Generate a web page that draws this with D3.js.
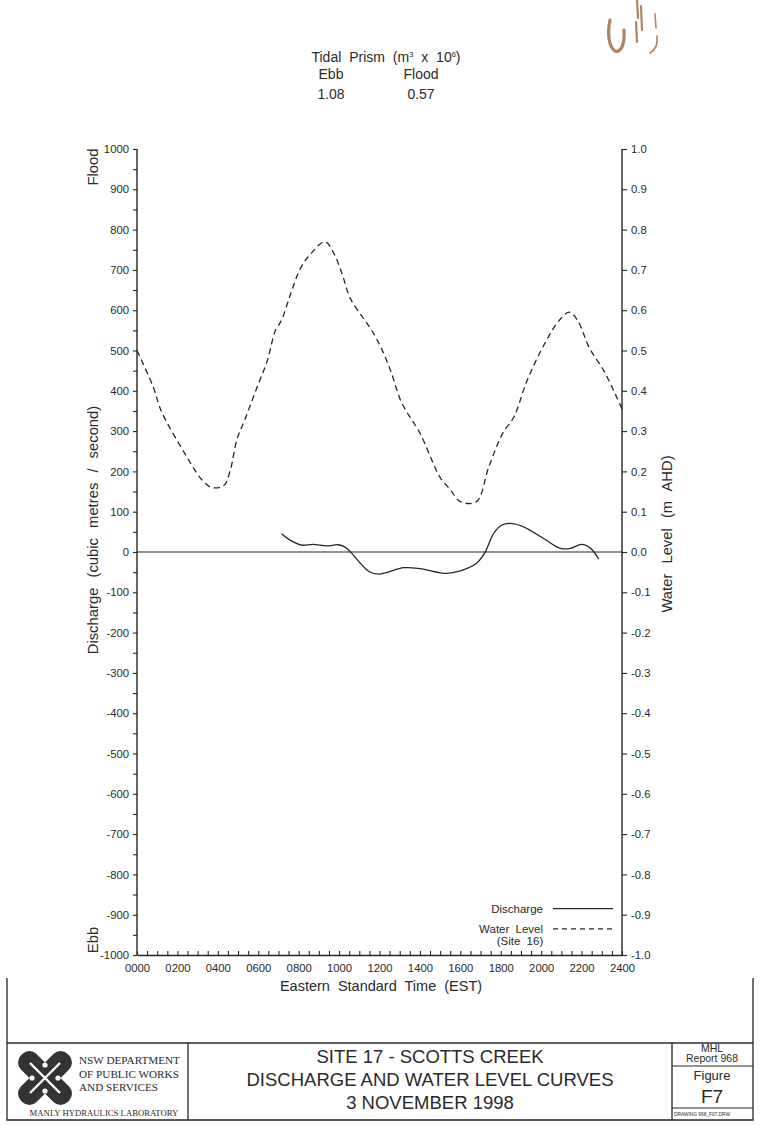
<!DOCTYPE html>
<html>
<head>
<meta charset="utf-8">
<script src="https://cdn.jsdelivr.net/npm/d3@7"></script>
<style>
  html, body { margin: 0; padding: 0; background: #fff; }
  svg { display: block; }
  text { font-family: "Liberation Sans", Arial, sans-serif; fill: #2a2a2a; }
  text.serif { font-family: "Liberation Serif", "Times New Roman", serif; }
</style>
</head>
<body>
<svg id="chart" width="762" height="1128"></svg>
<script>
// ---------------- DATA ----------------
// Water level (Site 16), m AHD, time in hours EST
const wlTime  = [0, 0.8, 1.2, 2.3, 3.2, 3.7, 4.3, 4.6, 4.95, 5.35, 5.95, 6.45, 6.85, 7.15, 7.6, 8.1, 8.6, 9.3, 9.75, 10.15, 10.55, 11.2, 11.55, 12.05, 12.55, 13.1, 14.0, 15.0, 15.5, 16.0, 16.8, 17.4, 18.1, 18.65, 19.3, 20.15, 20.9, 21.4, 21.8, 22.4, 23.1, 24];
const wlLevel = [0.50, 0.41, 0.35, 0.25, 0.18, 0.16, 0.165, 0.20, 0.28, 0.33, 0.41, 0.475, 0.55, 0.575, 0.64, 0.705, 0.74, 0.77, 0.74, 0.69, 0.63, 0.58, 0.555, 0.51, 0.45, 0.37, 0.295, 0.185, 0.155, 0.125, 0.125, 0.21, 0.295, 0.335, 0.425, 0.515, 0.575, 0.595, 0.575, 0.505, 0.45, 0.355];
// Discharge, cubic metres / second (positive = flood)
const qTime = [7.15, 7.55, 8.15, 8.7, 9.4, 9.95, 10.3, 10.55, 11.05, 11.5, 11.95, 12.35, 13.2, 14.0, 15.3, 16.0, 16.8, 17.2, 17.65, 18.05, 18.45, 19.1, 20.1, 20.95, 21.45, 22.0, 22.45, 22.85];
const qFlow = [45, 30, 17, 19, 15, 18, 12, 1, -28, -49, -55, -51, -39, -41, -53, -47, -28, -3, 46, 67, 71, 63, 34, 9, 9, 19, 9, -18];
// Tick values
const leftTicks  = d3.range(-1000, 1001, 50);
const rightTicks = d3.range(-10, 11, 1).map(d => d / 10);
const timeTicks  = d3.range(0, 24.01, 0.5);
const timeLabels = ["0000","0200","0400","0600","0800","1000","1200","1400","1600","1800","2000","2200","2400"];
// Tidal prism
const prismLabels = ["Ebb", "Flood"];
const prismValues = ["1.08", "0.57"];
// Title block text
const titleLines = ["SITE 17 - SCOTTS CREEK", "DISCHARGE AND WATER LEVEL CURVES", "3 NOVEMBER 1998"];
const deptLines = ["NSW DEPARTMENT", "OF PUBLIC WORKS", "AND SERVICES"];

// ---------------- LAYOUT ----------------
const svg = d3.select("#chart");
const X0 = 137, X1 = 622, YT = 149, YB = 955;
const x  = d3.scaleLinear().domain([0, 24]).range([X0, X1]);
const yL = d3.scaleLinear().domain([-1000, 1000]).range([YB, YT]);
const yR = d3.scaleLinear().domain([-1, 1]).range([YB, YT]);
const ink = "#262626";

// Left axis
const gL = svg.append("g").attr("transform", `translate(${X0},0)`)
  .call(d3.axisLeft(yL).tickValues(leftTicks).tickSize(4).tickPadding(4)
    .tickFormat(d => d % 100 === 0 ? String(d) : ""));
// Right axis
const gR = svg.append("g").attr("transform", `translate(${X1},0)`)
  .call(d3.axisRight(yR).tickValues(rightTicks).tickSize(5).tickPadding(4)
    .tickFormat(d => (d < 0 ? "-" : "") + Math.abs(d).toFixed(1)));
// Bottom axis
const gB = svg.append("g").attr("transform", `translate(0,${YB})`)
  .call(d3.axisBottom(x).tickValues(timeTicks).tickSizeInner(-4).tickSizeOuter(0).tickPadding(9)
    .tickFormat(d => (d % 2 === 0) ? timeLabels[d / 2] : ""));

[gL, gR, gB].forEach(g => {
  g.select(".domain").attr("stroke", ink).attr("stroke-width", 1.4);
  g.selectAll(".tick line").attr("stroke", ink).attr("stroke-width", 1.1);
  g.selectAll("text").attr("font-size", 11.3).attr("fill", ink);
});
gL.select(".domain").attr("d", `M0,${YT}V${YB}`);
gR.select(".domain").attr("d", `M0,${YT}V${YB}`);

// Zero line
svg.append("line").attr("x1", X0).attr("x2", X1).attr("y1", yL(0)).attr("y2", yL(0))
  .attr("stroke", ink).attr("stroke-width", 1.2);

// Water level (dashed)
const wlData = wlTime.map((t, i) => [t, wlLevel[i]]);
svg.append("path").datum(wlData)
  .attr("d", d3.line().x(d => x(d[0])).y(d => yR(d[1])).curve(d3.curveCatmullRom.alpha(0.5)))
  .attr("fill", "none").attr("stroke", ink).attr("stroke-width", 1.3)
  .attr("stroke-dasharray", "6,4");

// Discharge (solid)
const qData = qTime.map((t, i) => [t, qFlow[i]]);
svg.append("path").datum(qData)
  .attr("d", d3.line().x(d => x(d[0])).y(d => yL(d[1])).curve(d3.curveCatmullRom.alpha(0.5)))
  .attr("fill", "none").attr("stroke", ink).attr("stroke-width", 1.3);

// Axis titles
function rotLabel(px, py, txt, ws) {
  svg.append("text").attr("transform", `translate(${px},${py}) rotate(-90)`)
    .attr("text-anchor", "middle").attr("font-size", 14.8)
    .style("word-spacing", ws + "px").text(txt);
}
rotLabel(98, 530, "Discharge (cubic metres / second)", 6);
rotLabel(98, 167, "Flood", 0);
rotLabel(98, 940, "Ebb", 0);
rotLabel(672, 534, "Water Level (m AHD)", 6);
svg.append("text").attr("x", 381).attr("y", 991)
  .attr("text-anchor", "middle").attr("font-size", 14.5).style("word-spacing", "4px")
  .text("Eastern Standard Time (EST)");

// Legend
const lgX = 553, lgW = 60;
svg.append("text").attr("x", 543).attr("y", yL(-885) + 4).attr("text-anchor", "end")
  .attr("font-size", 11.5).text("Discharge");
svg.append("line").attr("x1", lgX).attr("x2", lgX + lgW).attr("y1", yL(-885)).attr("y2", yL(-885))
  .attr("stroke", ink).attr("stroke-width", 1.2);
svg.append("text").attr("x", 543).attr("y", yL(-935) + 4).attr("text-anchor", "end")
  .attr("font-size", 11.5).style("word-spacing", "3px").text("Water Level");
svg.append("line").attr("x1", lgX).attr("x2", lgX + lgW).attr("y1", yL(-935)).attr("y2", yL(-935))
  .attr("stroke", ink).attr("stroke-width", 1.2).attr("stroke-dasharray", "5,4");
svg.append("text").attr("x", 520).attr("y", yL(-965) + 4).attr("text-anchor", "middle")
  .attr("font-size", 11.5).style("word-spacing", "3px").text("(Site 16)");

// Tidal prism header
const tp = svg.append("text").attr("x", 386).attr("y", 62).attr("text-anchor", "middle")
  .attr("font-size", 14).style("word-spacing", "4px");
tp.append("tspan").text("Tidal Prism (m");
tp.append("tspan").attr("font-size", 7.5).attr("dy", -5).text("3");
tp.append("tspan").attr("dy", 5).text(" x 10");
tp.append("tspan").attr("font-size", 7.5).attr("dy", -5).text("6");
tp.append("tspan").attr("dy", 5).text(")");
const prismX = [331, 421];
prismLabels.forEach((l, i) => {
  svg.append("text").attr("x", prismX[i]).attr("y", 79).attr("text-anchor", "middle").attr("font-size", 14).text(l);
  svg.append("text").attr("x", prismX[i]).attr("y", 99).attr("text-anchor", "middle").attr("font-size", 14).text(prismValues[i]);
});

// Scan stamp marks (top right)
const brown = "#98673a";
[["M610,20 C607,34 609,47 615,51 C621,53 625,44 624,30", 3.2],
 ["M637,0 L638,18 M636,22 L637,42 M641,6 L642,30", 2.2],
 ["M655,14 L656,28 M657,36 C658,44 655,50 650,53", 1.6]].forEach(([d, w]) => {
  svg.append("path").attr("d", d).attr("fill", "none").attr("stroke", brown)
    .attr("stroke-width", w).attr("stroke-linecap", "round").attr("opacity", 0.8);
});

// ---------------- TITLE BLOCK ----------------
const TB = { x0: 7, x1: 753, y0: 1043, y1: 1120 };
const frame = svg.append("g").attr("stroke", ink).attr("stroke-width", 1.3).attr("fill", "none");
frame.append("path").attr("d", `M${TB.x0},978V${TB.y1}H${TB.x1}V978`);
frame.append("line").attr("x1", TB.x0).attr("x2", TB.x1).attr("y1", TB.y0).attr("y2", TB.y0);
frame.append("line").attr("x1", 188).attr("x2", 188).attr("y1", TB.y0).attr("y2", TB.y1);
frame.append("line").attr("x1", 672).attr("x2", 672).attr("y1", TB.y0).attr("y2", TB.y1);
frame.append("line").attr("x1", 672).attr("x2", TB.x1).attr("y1", 1066).attr("y2", 1066).attr("stroke-width", 1);
frame.append("line").attr("x1", 672).attr("x2", TB.x1).attr("y1", 1108).attr("y2", 1108).attr("stroke-width", 1);

titleLines.forEach((t, i) => {
  svg.append("text").attr("x", 430).attr("y", 1063 + i * 23).attr("text-anchor", "middle")
    .attr("font-size", 18.5).text(t);
});
svg.append("text").attr("x", 712).attr("y", 1052).attr("text-anchor", "middle").attr("font-size", 10.5).text("MHL");
svg.append("text").attr("x", 712).attr("y", 1062).attr("text-anchor", "middle").attr("font-size", 10.5).text("Report 968");
svg.append("text").attr("x", 712).attr("y", 1080).attr("text-anchor", "middle").attr("font-size", 13).text("Figure");
svg.append("text").attr("x", 712).attr("y", 1103).attr("text-anchor", "middle").attr("font-size", 19).text("F7");
svg.append("text").attr("x", 674).attr("y", 1116).attr("font-size", 4.8).text("DRAWING  968_F07.DRW");

deptLines.forEach((t, i) => {
  svg.append("text").attr("class", "serif").attr("x", 79).attr("y", 1064 + i * 13.5)
    .attr("font-size", 11.2).text(t);
});
svg.append("text").attr("class", "serif").attr("x", 104).attr("y", 1116).attr("text-anchor", "middle")
  .attr("font-size", 8.7).text("MANLY HYDRAULICS LABORATORY");

// Logo (stylised emblem)
const logo = svg.append("g").attr("transform", "translate(45,1078)");
logo.append("rect").attr("x", -33).attr("y", -11).attr("width", 66).attr("height", 22).attr("rx", 10)
  .attr("transform", "rotate(-45)").attr("fill", "#333");
logo.append("rect").attr("x", -33).attr("y", -11).attr("width", 66).attr("height", 22).attr("rx", 10)
  .attr("transform", "rotate(45)").attr("fill", "#333");
logo.append("path").attr("d", "M-15,-15L15,15M15,-15L-15,15").attr("stroke", "#fff").attr("stroke-width", 2.4);
[[0, -13], [13, 0], [0, 13], [-13, 0]].forEach(([cx, cy]) => {
  logo.append("circle").attr("cx", cx).attr("cy", cy).attr("r", 2.6).attr("fill", "#fff");
});
</script>
</body>
</html>
